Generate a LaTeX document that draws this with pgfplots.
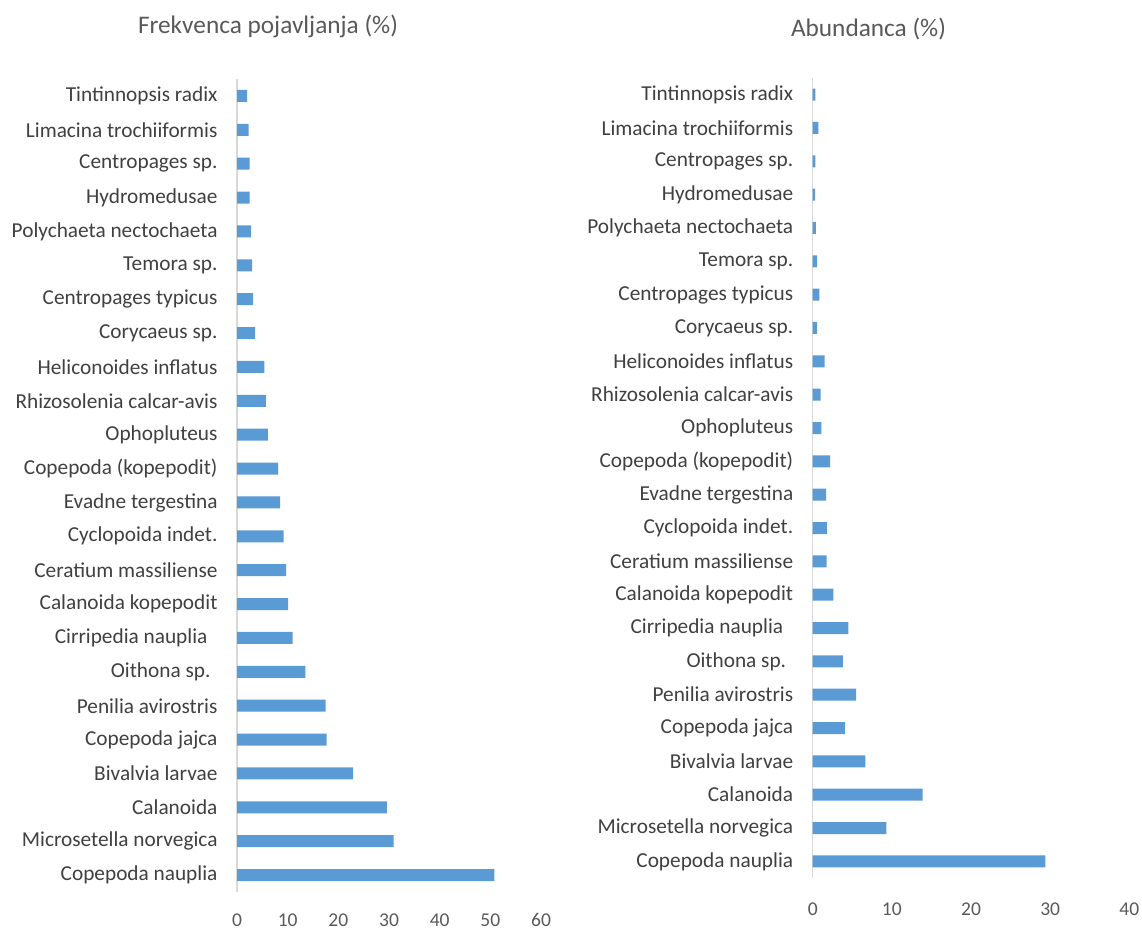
\documentclass[border=0pt]{standalone}
\usepackage{pgfplots}
\pgfplotsset{compat=1.18}
\usepackage{fontspec}
\setmainfont{Carlito}

\definecolor{barblue}{HTML}{5B9BD5}
\definecolor{labgray}{HTML}{404040}
\definecolor{tickgray}{HTML}{595959}
\definecolor{axgray}{HTML}{D9D9D9}

\newcommand{\labelfont}{\fontsize{21.3}{22}\selectfont}
\newcommand{\tickfont}{\fontsize{19.5}{20}\selectfont}
\newcommand{\titlefont}{\fontsize{25.3}{26}\selectfont}

% shared look of both horizontal bar panels; taxa listed bottom to top
\pgfplotsset{
  taxa/.style={
    xbar, bar width=12pt, scale only axis,
    axis lines=left,
    x axis line style={draw=none},
    y axis line style={draw=axgray, line width=1.3pt, -},
    major tick length=0pt,
    ymin=-0.5, ymax=23.5,
    ytick={0,...,23},
    yticklabels={Copepoda nauplia, Microsetella norvegica, Calanoida,
      Bivalvia larvae, Copepoda jajca, Penilia avirostris,
      Oithona sp.\hspace*{7pt},
      Cirripedia nauplia\hspace*{10pt}, Calanoida kopepodit, Ceratium massiliense,
      Cyclopoida indet., Evadne tergestina, Copepoda (kopepodit),
      Ophopluteus, Rhizosolenia calcar-avis, Heliconoides inflatus,
      Corycaeus sp., Centropages typicus, Temora sp.,
      Polychaeta nectochaeta, Hydromedusae, Centropages sp.,
      Limacina trochiiformis, Tintinnopsis radix},
    yticklabel style={font=\labelfont, text=labgray, anchor=east},
    xticklabel style={font=\tickfont, text=tickgray},
    /pgf/number format/assume math mode=true,
    xmin=0,
  },
  taxbar/.style={fill=barblue, draw=none},
}

\begin{document}
\begin{tikzpicture}
\useasboundingbox (0pt,0pt) rectangle (1142pt,930pt);

% frequency of occurrence
\begin{axis}[taxa, at={(237pt,38pt)}, anchor=south west,
  width=304pt, height=813pt,
  xmax=60, xtick={0,10,...,60},
  yticklabel style={xshift=-16pt},
  xticklabel style={yshift=-18pt}]
\addplot[taxbar] coordinates {
  (50.8,0) (30.9,1) (29.6,2) (22.9,3) (17.7,4) (17.5,5) (13.5,6) (11.0,7)
  (10.1,8) (9.7,9) (9.2,10) (8.5,11) (8.1,12) (6.1,13) (5.7,14) (5.4,15)
  (3.6,16) (3.2,17) (3.0,18) (2.8,19) (2.5,20) (2.5,21) (2.3,22) (2.0,23)};
\end{axis}

% abundance
\begin{axis}[taxa, at={(812.7pt,52pt)}, anchor=south west,
  width=316.6pt, height=800pt,
  xmax=40, xtick={0,10,...,40},
  yticklabel style={xshift=-16pt},
  xticklabel style={yshift=-21.5pt}]
\addplot[taxbar] coordinates {
  (29.4,0) (9.3,1) (13.9,2) (6.65,3) (4.1,4) (5.5,5) (3.8,6) (4.5,7)
  (2.6,8) (1.75,9) (1.8,10) (1.7,11) (2.2,12) (1.1,13) (1.0,14) (1.5,15)
  (0.55,16) (0.85,17) (0.55,18) (0.4,19) (0.3,20) (0.35,21) (0.7,22) (0.35,23)};
\end{axis}

\node[anchor=base, font=\titlefont, text=tickgray] at (268pt,896pt)
  {Frekvenca pojavljanja (\%)};
\node[anchor=base, font=\titlefont, text=tickgray] at (868.5pt,893pt)
  {Abundanca (\%)};
\end{tikzpicture}
\end{document}
